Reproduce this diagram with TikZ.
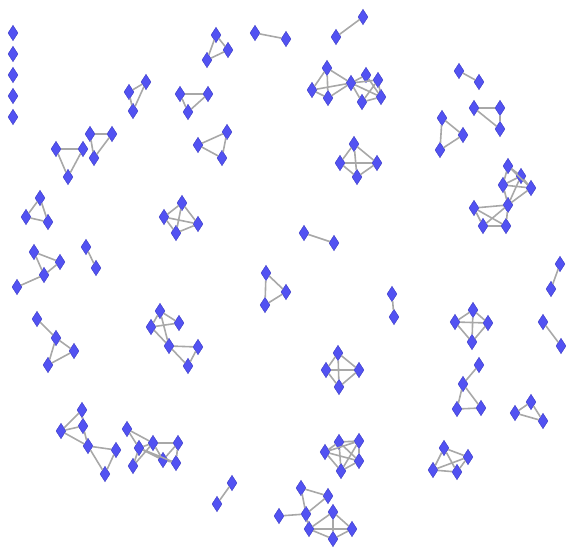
\documentclass[tikz,border=0pt]{standalone}
\usepackage{xcolor}
\usepackage{tikz}
\usetikzlibrary{shapes.geometric}
\definecolor{gvblue}{HTML}{5252F2}
\definecolor{gvedge}{HTML}{3A3AC4}
\definecolor{gvlink}{HTML}{A8A8A8}

\begin{document}
\begin{tikzpicture}[
 x=1pt,y=-1pt,
 vert/.style={diamond,draw=gvedge,line width=0.4pt,fill=gvblue,
   minimum width=10pt,minimum height=15.5pt,inner sep=0pt},
 link/.style={draw=gvlink,line width=1.6pt}
]
\useasboundingbox (0,0) rectangle (566,548);
% isolated column
\node[vert] (iso1) at (13,33) {}; \node[vert] (iso2) at (13,54) {};
\node[vert] (iso3) at (13,75) {}; \node[vert] (iso4) at (13,96) {};
\node[vert] (iso5) at (13,117) {};
% top row
\node[vert] (a1) at (129,92) {}; \node[vert] (a2) at (146,82) {}; \node[vert] (a3) at (133,111) {};
\node[vert] (b1) at (180,94) {}; \node[vert] (b2) at (208,94) {}; \node[vert] (b3) at (188,112) {};
\node[vert] (c1) at (216,35) {}; \node[vert] (c2) at (228,50) {}; \node[vert] (c3) at (207,60) {};
\node[vert] (d1) at (255,33) {}; \node[vert] (d2) at (286,39) {};
\node[vert] (e1) at (336,37) {}; \node[vert] (e2) at (363,17) {};
\node[vert] (f1) at (327,68) {}; \node[vert] (f2) at (312,90) {}; \node[vert] (f3) at (328,98) {};
\node[vert] (f4) at (351,83) {}; \node[vert] (f5) at (366,75) {}; \node[vert] (f6) at (378,80) {};
\node[vert] (f7) at (362,102) {}; \node[vert] (f8) at (381,97) {};
\node[vert] (g1) at (459,71) {}; \node[vert] (g2) at (479,82) {};
\node[vert] (h1) at (474,108) {}; \node[vert] (h2) at (500,108) {}; \node[vert] (h3) at (500,129) {};
\node[vert] (k1) at (442,118) {}; \node[vert] (k2) at (463,135) {}; \node[vert] (k3) at (440,150) {};
% upper middle
\node[vert] (l1) at (56,149) {}; \node[vert] (l2) at (83,149) {}; \node[vert] (l3) at (68,177) {};
\node[vert] (m1) at (90,134) {}; \node[vert] (m2) at (112,134) {}; \node[vert] (m3) at (94,158) {};
\node[vert] (n1) at (198,145) {}; \node[vert] (n2) at (227,132) {}; \node[vert] (n3) at (222,158) {};
\node[vert] (o1) at (354,144) {}; \node[vert] (o2) at (340,163) {}; \node[vert] (o3) at (377,163) {};
\node[vert] (o4) at (357,177) {};
\node[vert] (p1) at (40,198) {}; \node[vert] (p2) at (26,217) {}; \node[vert] (p3) at (48,222) {};
\node[vert] (q1) at (182,203) {}; \node[vert] (q2) at (164,217) {}; \node[vert] (q3) at (198,224) {};
\node[vert] (q4) at (176,233) {};
\node[vert] (r1) at (304,233) {}; \node[vert] (r2) at (334,243) {};
\node[vert] (s1) at (86,247) {}; \node[vert] (s2) at (96,268) {};
\node[vert] (t1) at (34,252) {}; \node[vert] (t2) at (60,262) {}; \node[vert] (t3) at (44,275) {};
\node[vert] (t4) at (17,287) {};
\node[vert] (u1) at (266,273) {}; \node[vert] (u2) at (286,292) {}; \node[vert] (u3) at (265,305) {};
\node[vert] (w1) at (508,166) {}; \node[vert] (w2) at (521,176) {}; \node[vert] (w3) at (503,185) {};
\node[vert] (w4) at (531,188) {}; \node[vert] (w5) at (508,205) {}; \node[vert] (w6) at (474,208) {};
\node[vert] (w7) at (483,226) {}; \node[vert] (w8) at (506,226) {};
\node[vert] (x1) at (560,264) {}; \node[vert] (x2) at (551,289) {};
% lower middle
\node[vert] (y1) at (392,294) {}; \node[vert] (y2) at (394,317) {};
\node[vert] (z1) at (473,310) {}; \node[vert] (z2) at (455,322) {}; \node[vert] (z3) at (488,323) {};
\node[vert] (z4) at (472,342) {};
\node[vert] (aa1) at (543,322) {}; \node[vert] (aa2) at (561,346) {};
\node[vert] (ab1) at (37,319) {}; \node[vert] (ab2) at (56,338) {}; \node[vert] (ab3) at (74,351) {};
\node[vert] (ab4) at (48,365) {};
\node[vert] (ac1) at (160,311) {}; \node[vert] (ac2) at (179,323) {}; \node[vert] (ac3) at (151,327) {};
\node[vert] (ac4) at (169,346) {}; \node[vert] (ac5) at (198,347) {}; \node[vert] (ac6) at (188,366) {};
\node[vert] (ad1) at (338,353) {}; \node[vert] (ad2) at (326,370) {}; \node[vert] (ad3) at (359,370) {};
\node[vert] (ad4) at (339,387) {};
\node[vert] (ae1) at (479,365) {}; \node[vert] (ae2) at (463,384) {}; \node[vert] (ae3) at (457,409) {};
\node[vert] (ae4) at (481,408) {};
\node[vert] (af1) at (515,413) {}; \node[vert] (af2) at (531,402) {}; \node[vert] (af3) at (543,421) {};
% bottom row
\node[vert] (ag1) at (82,410) {}; \node[vert] (ag2) at (61,431) {}; \node[vert] (ag3) at (83,426) {};
\node[vert] (ag4) at (88,446) {}; \node[vert] (ag5) at (116,450) {}; \node[vert] (ag6) at (105,474) {};
\node[vert] (ah1) at (127,429) {}; \node[vert] (ah2) at (139,448) {}; \node[vert] (ah3) at (133,466) {};
\node[vert] (ah4) at (153,443) {}; \node[vert] (ah5) at (178,443) {}; \node[vert] (ah6) at (163,460) {};
\node[vert] (ah7) at (176,463) {};
\node[vert] (ai1) at (325,452) {}; \node[vert] (ai2) at (339,442) {}; \node[vert] (ai3) at (359,441) {};
\node[vert] (ai4) at (359,461) {}; \node[vert] (ai5) at (341,471) {};
\node[vert] (aj1) at (444,448) {}; \node[vert] (aj2) at (468,457) {}; \node[vert] (aj3) at (433,470) {};
\node[vert] (aj4) at (457,472) {};
\node[vert] (ak1) at (232,483) {}; \node[vert] (ak2) at (217,504) {};
\node[vert] (al1) at (301,488) {}; \node[vert] (al2) at (328,496) {}; \node[vert] (al3) at (306,514) {};
\node[vert] (al4) at (279,516) {}; \node[vert] (al5) at (333,512) {}; \node[vert] (al6) at (309,529) {};
\node[vert] (al7) at (352,529) {}; \node[vert] (al8) at (333,539) {};
% links
\draw[link] (a1) -- (a2) -- (a3) -- (a1);
\draw[link] (b1) -- (b2) -- (b3) -- (b1);
\draw[link] (c1) -- (c2) -- (c3) -- (c1);
\draw[link] (d1) -- (d2);
\draw[link] (e1) -- (e2);
\draw[link] (f1) -- (f2) -- (f3) -- (f1) -- (f4) -- (f2) (f3) -- (f4);
\draw[link] (f4) -- (f5) (f4) -- (f6) (f4) -- (f7) (f4) -- (f8);
\draw[link] (f5) -- (f8) (f6) -- (f7) (f6) -- (f8) (f7) -- (f8);
\draw[link] (g1) -- (g2);
\draw[link] (h1) -- (h2) -- (h3) -- (h1);
\draw[link] (k1) -- (k2) -- (k3) -- (k1);
\draw[link] (l1) -- (l2) -- (l3) -- (l1);
\draw[link] (m1) -- (m2) -- (m3) -- (m1);
\draw[link] (n1) -- (n2) -- (n3) -- (n1);
\draw[link] (o1) -- (o2) -- (o4) -- (o3) -- (o1) -- (o4) (o2) -- (o3);
\draw[link] (p1) -- (p2) -- (p3) -- (p1);
\draw[link] (q1) -- (q2) -- (q4) -- (q3) -- (q1) -- (q4) (q2) -- (q3);
\draw[link] (r1) -- (r2);
\draw[link] (s1) -- (s2);
\draw[link] (t1) -- (t2) -- (t3) -- (t1) (t3) -- (t4);
\draw[link] (u1) -- (u2) -- (u3) -- (u1);
\draw[link] (w1) -- (w2) -- (w4) -- (w3) -- (w1) (w2) -- (w3) (w1) -- (w4);
\draw[link] (w2) -- (w5) -- (w4) (w3) -- (w5);
\draw[link] (w5) -- (w6) -- (w7) -- (w8) -- (w5) -- (w7) (w6) -- (w8);
\draw[link] (x1) -- (x2);
\draw[link] (y1) -- (y2);
\draw[link] (z1) -- (z2) -- (z4) -- (z3) -- (z1) -- (z4) (z2) -- (z3);
\draw[link] (aa1) -- (aa2);
\draw[link] (ab1) -- (ab2) -- (ab3) -- (ab4) -- (ab2);
\draw[link] (ac1) -- (ac2) -- (ac3) -- (ac1) -- (ac4) -- (ac3);
\draw[link] (ac4) -- (ac5) -- (ac6) -- (ac4);
\draw[link] (ad1) -- (ad2) -- (ad4) -- (ad3) -- (ad1) -- (ad4) (ad2) -- (ad3);
\draw[link] (ae1) -- (ae2) -- (ae3) -- (ae4) -- (ae2);
\draw[link] (af1) -- (af2) -- (af3) -- (af1);
\draw[link] (ag1) -- (ag2) -- (ag3) -- (ag1) (ag2) -- (ag4) -- (ag3);
\draw[link] (ag4) -- (ag5) -- (ag6) -- (ag4);
\draw[link] (ah1) -- (ah2) -- (ah3) (ah1) -- (ah4) (ah2) -- (ah4) -- (ah5);
\draw[link] (ah3) -- (ah4) (ah2) -- (ah6) (ah2) -- (ah7) (ah4) -- (ah6) -- (ah7) -- (ah5) -- (ah6);
\draw[link] (ai1) -- (ai2) -- (ai3) -- (ai4) -- (ai5) -- (ai1) -- (ai3) (ai1) -- (ai4);
\draw[link] (ai2) -- (ai4) (ai2) -- (ai5) -- (ai3);
\draw[link] (aj1) -- (aj2) -- (aj4) -- (aj3) -- (aj1) -- (aj4) (aj2) -- (aj3);
\draw[link] (ak1) -- (ak2);
\draw[link] (al1) -- (al2) -- (al3) -- (al1) (al3) -- (al4) (al3) -- (al6);
\draw[link] (al5) -- (al6) -- (al7) -- (al5) -- (al8) -- (al6) (al7) -- (al8);
\end{tikzpicture}
\end{document}
